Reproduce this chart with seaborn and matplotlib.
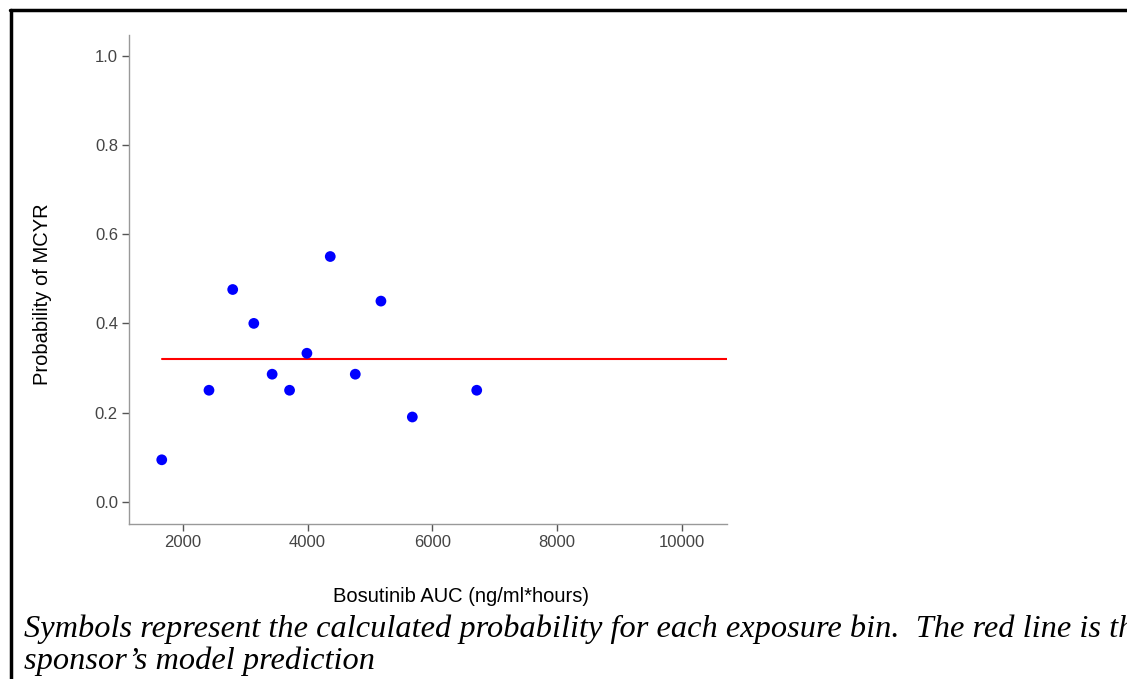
import matplotlib
matplotlib.use("Agg")
import matplotlib.pyplot as plt
import seaborn as sns
import pandas as pd
from matplotlib.lines import Line2D

# ---- data ----
auc_bins = [1664, 2421, 2801, 3139, 3433, 3712, 3990, 4364, 4765, 5176, 5679, 6711]
prob_mcyr = [0.094, 0.25, 0.476, 0.40, 0.286, 0.25, 0.333, 0.55, 0.286, 0.45, 0.19, 0.25]
model_x = [1664, 10716]
model_y = [0.32, 0.32]
x_ticks = [2000, 4000, 6000, 8000, 10000]
y_ticks = [0.0, 0.2, 0.4, 0.6, 0.8, 1.0]
x_label = "Bosutinib AUC (ng/ml*hours)"
y_label = "Probability of MCYR"
caption1 = "Symbols represent the calculated probability for each exposure bin.  The red line is the"
caption2 = "sponsor\u2019s model prediction"

sns.set_style("white")
plt.rcParams['font.family'] = ['Liberation Sans', 'DejaVu Sans']

fig = plt.figure(figsize=(11.27, 6.79), dpi=100)
ax = fig.add_axes([0.1145, 0.2283, 0.5303, 0.7202])

df = pd.DataFrame({"auc": auc_bins, "p": prob_mcyr})
dm = pd.DataFrame({"auc": model_x, "p": model_y})
sns.lineplot(data=dm, x="auc", y="p", color="#ff0000", linewidth=1.5, ax=ax, zorder=2)
sns.scatterplot(data=df, x="auc", y="p", color="#0000ff", s=60, edgecolor="none", ax=ax, zorder=3)

ax.set_xlim(1140, 10716)
ax.set_ylim(-0.05, 1.047)
ax.set_xticks(x_ticks)
ax.set_xticklabels([str(t) for t in x_ticks])
ax.set_yticks(y_ticks)
ax.set_yticklabels([f"{t:.1f}" for t in y_ticks])
ax.set_xlabel("")
ax.set_ylabel("")

for s in ["top", "right"]:
    ax.spines[s].set_visible(False)
for s in ["left", "bottom"]:
    ax.spines[s].set_color("#999999")
    ax.spines[s].set_linewidth(1.0)
ax.tick_params(axis="both", direction="out", length=5, width=1, color="#555555",
               labelcolor="#444444", labelsize=12, left=True, bottom=True, pad=3)

fig.text(43 / 1127, 1 - 294 / 679, y_label, rotation=90, ha="center", va="center",
         fontsize=14.5, color="black")
fig.text(461 / 1127, 1 - 596 / 679, x_label, ha="center", va="center",
         fontsize=14.5, color="black")

cap_font = dict(family=["Liberation Serif", "DejaVu Serif"], style="italic", fontsize=23.3, color="black")
fig.text(24 / 1127, 1 - 629 / 679, caption1, ha="left", va="center", **cap_font)
fig.text(24 / 1127, 1 - 661 / 679, caption2, ha="left", va="center", **cap_font)

# page frame
fig.add_artist(Line2D([10 / 1127, 1.0], [1 - 10 / 679, 1 - 10 / 679], color="black", linewidth=2.5,
                      transform=fig.transFigure))
fig.add_artist(Line2D([10.5 / 1127, 10.5 / 1127], [0.0, 1 - 10 / 679], color="black", linewidth=2.5,
                      transform=fig.transFigure))

fig.savefig("out.png", dpi=100)
